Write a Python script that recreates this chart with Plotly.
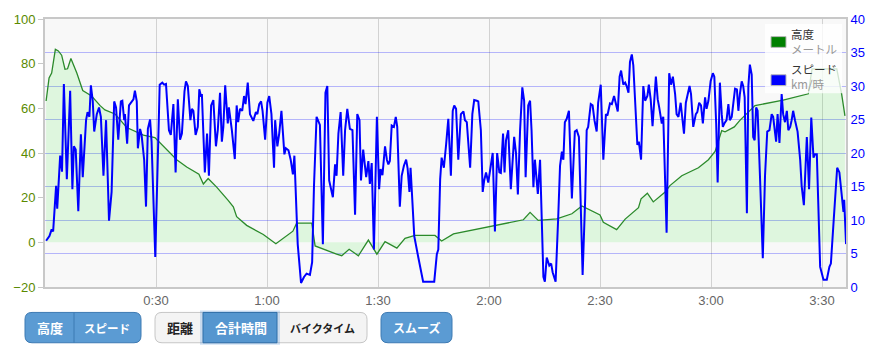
import plotly.graph_objects as go

# ---------------- data ----------------
tick_minutes = [30, 60, 90, 120, 150, 180, 210]
tick_labels = ["0:30", "1:00", "1:30", "2:00", "2:30", "3:00", "3:30"]

elev_time = [0.3, 1.1, 1.8, 2.8, 3.6, 4.5, 5.4, 6.1, 7.0, 8.6,
             10.2, 12.6, 14.9, 16.2, 18.9, 22.1, 26.6, 29.7, 35.6, 38.3,
             41.6, 42.8, 44.1, 46.4, 49.5, 50.9, 51.8, 54.5, 59.0, 62.4,
             67.0, 68.0, 72.1, 73.0, 78.8, 80.2, 82.2, 84.7, 87.4, 89.7,
             91.9, 95.1, 97.3, 100.0, 105.4, 107.2, 110.4, 129.3, 131.1, 133.3,
             138.3, 142.4, 145.1, 147.3, 150.0, 150.9, 154.5, 156.8, 158.1, 160.4,
             161.1, 162.8, 164.4, 167.6, 168.9, 172.1, 176.6, 179.3, 181.1, 182.9,
             183.8, 186.3, 187.8, 191.9, 199.5, 206.3, 207.3, 214.0, 215.3, 216.2]
elev_m = [63.3, 73.6, 75.8, 86.4, 85.7, 83.8, 77.5, 77.7, 82.3, 75.8,
          68.0, 65.5, 61.2, 59.3, 57.5, 51.4, 48.0, 46.9, 37.0, 33.7,
          30.5, 26.1, 28.6, 24.7, 18.8, 15.9, 11.5, 7.6, 3.5, -0.6,
          5.0, 8.6, 8.6, -1.6, -5.3, -6.0, -3.1, -6.0, 1.0, -5.3,
          0.3, -2.6, 1.8, 3.1, 3.1, 0.6, 3.8, 10.1, 13.4, 9.8,
          10.5, 12.8, 16.3, 14.5, 12.3, 9.0, 5.7, 10.4, 12.3, 15.5,
          19.5, 22.0, 18.1, 22.5, 25.4, 29.8, 33.4, 37.0, 40.7, 50.0,
          49.5, 51.7, 54.6, 61.2, 63.7, 66.5, 77.7, 77.7, 66.5, 56.6]

speed_time = [
    0.3, 1.2, 1.8, 2.2, 3.0, 3.3, 4.1, 4.6, 5.1, 5.9,
    6.8, 7.4, 7.8, 8.3, 9.0, 9.7, 10.2, 11.1, 11.5, 12.0,
    12.4, 12.9, 13.3, 14.0, 14.6, 15.1, 15.8, 16.5, 17.3, 18.0,
    18.7, 19.2, 19.8, 20.5, 20.9, 21.4, 21.6, 22.2, 22.7, 23.4,
    23.9, 24.3, 24.8, 25.1, 25.7, 26.1, 26.8, 27.3, 27.8, 28.4,
    28.8, 29.8, 31.0, 31.7, 32.2, 32.7, 33.5, 34.0, 34.7, 35.3,
    35.9, 36.5, 37.0, 37.7, 38.1, 38.6, 39.3, 39.7, 40.1, 40.7,
    41.3, 41.7, 42.2, 42.4, 43.2, 43.8, 44.3, 44.9, 45.5, 46.2,
    46.7, 47.3, 47.8, 48.2, 48.7, 49.4, 49.7, 50.5, 51.3, 51.8,
    52.2, 52.7, 53.3, 53.8, 54.2, 54.8, 55.4, 56.3, 57.0, 57.4,
    57.9, 58.4, 58.8, 59.5, 60.1, 60.6, 61.2, 61.9, 62.2, 62.8,
    63.3, 63.9, 64.7, 65.1, 65.8, 66.4, 67.0, 67.4, 68.3, 69.2,
    70.0, 70.7, 71.6, 72.2, 72.7, 73.4, 74.0, 74.3, 75.1, 75.8,
    76.3, 76.8, 77.8, 78.4, 78.8, 79.3, 79.9, 80.6, 81.1, 81.7,
    82.4, 83.1, 83.8, 84.4, 85.0, 85.4, 86.0, 86.8, 87.4, 87.8,
    88.3, 88.9, 89.7, 90.3, 90.7, 91.2, 91.9, 92.4, 92.8, 93.2,
    93.7, 94.3, 94.8, 95.2, 95.9, 96.4, 97.0, 97.6, 98.0, 98.5,
    98.8, 99.8, 100.9, 102.2, 105.2, 105.9, 106.3, 106.8, 107.2, 107.8,
    108.4, 109.0, 109.7, 110.2, 110.6, 111.1, 111.7, 112.4, 113.1, 113.5,
    114.0, 114.9, 115.5, 116.0, 116.7, 117.1, 117.8, 118.3, 118.7, 119.2,
    119.8, 120.3, 121.0, 121.6, 122.2, 122.8, 123.2, 123.8, 124.2, 124.6,
    125.2, 125.9, 126.4, 126.8, 127.3, 127.8, 128.4, 129.0, 129.5, 129.9,
    130.6, 131.1, 131.5, 132.0, 132.4, 133.2, 133.8, 134.7, 135.1, 135.6,
    136.3, 136.8, 137.2, 138.0, 138.7, 139.2, 139.7, 140.1, 140.5, 141.0,
    141.6, 142.4, 143.2, 143.7, 144.3, 145.3, 146.0, 146.4, 146.8, 147.5,
    148.0, 148.5, 149.1, 149.5, 150.2, 150.9, 151.6, 152.0, 152.7, 153.2,
    153.8, 154.3, 154.8, 155.3, 155.7, 156.3, 156.8, 157.2, 157.7, 158.1,
    158.6, 159.0, 159.7, 160.1, 160.5, 161.1, 161.7, 162.2, 162.8, 163.2,
    163.7, 164.2, 165.1, 165.6, 166.0, 166.7, 167.1, 168.0, 168.7, 169.2,
    169.7, 170.3, 170.7, 171.2, 171.8, 172.7, 173.2, 173.7, 174.2, 174.6,
    175.2, 175.9, 176.3, 176.8, 177.3, 177.8, 178.4, 178.8, 179.3, 179.9,
    180.5, 180.9, 181.4, 181.8, 182.4, 182.9, 183.2, 183.6, 184.2, 184.7,
    185.1, 185.6, 186.3, 186.5, 187.0, 187.4, 187.8, 188.3, 188.7, 189.1,
    189.7, 190.1, 190.5, 191.0, 191.4, 191.8, 192.2, 192.6, 193.2, 194.0,
    194.6, 195.2, 195.8, 196.4, 196.8, 197.6, 198.0, 198.5, 199.1, 199.5,
    200.0, 200.5, 200.9, 201.4, 201.8, 202.2, 202.7, 203.4, 204.1, 204.5,
    205.1, 205.9, 206.5, 207.1, 207.7, 208.1, 208.6, 209.0, 209.5, 210.4,
    211.3, 212.0, 212.4, 213.2, 214.1, 214.7, 215.3, 215.8, 216.0, 216.5]
speed_kmh = [
    6.9, 7.6, 8.6, 8.3, 15.1, 11.7, 19.6, 17.2, 30.3, 16.1,
    29.3, 14.6, 21.0, 20.5, 11.3, 22.8, 16.4, 24.9, 26.1, 25.4,
    30.1, 27.8, 23.2, 25.8, 26.8, 25.4, 16.6, 24.9, 9.9, 14.2,
    27.7, 26.8, 22.0, 27.7, 27.8, 24.9, 25.8, 21.4, 27.1, 27.7,
    28.0, 29.3, 27.7, 20.7, 23.6, 22.7, 19.0, 12.0, 23.6, 25.0,
    21.7, 4.5, 30.2, 30.5, 30.2, 30.3, 23.4, 22.7, 27.3, 17.1,
    28.0, 22.0, 22.9, 29.2, 30.7, 30.0, 24.9, 26.6, 26.3, 22.7,
    23.9, 29.5, 28.4, 28.8, 17.1, 22.9, 16.6, 27.1, 27.9, 21.0,
    23.4, 29.0, 21.7, 23.9, 30.1, 24.4, 26.8, 23.4, 19.1, 27.1,
    24.6, 26.6, 26.3, 28.5, 27.3, 30.5, 25.8, 24.8, 26.1, 25.8,
    27.3, 27.7, 26.3, 22.0, 27.5, 28.5, 25.8, 17.8, 24.9, 21.0,
    22.9, 26.3, 19.8, 20.7, 20.4, 19.0, 16.8, 19.6, 6.4, 0.6,
    1.5, 2.0, 1.8, 3.7, 15.1, 25.4, 24.4, 24.2, 6.4, 29.0,
    30.0, 15.9, 13.4, 18.3, 16.6, 22.9, 26.1, 16.6, 23.4, 26.6,
    23.6, 23.4, 10.8, 25.8, 24.9, 15.9, 20.5, 16.4, 18.8, 15.4,
    18.5, 5.6, 25.4, 14.6, 17.6, 16.7, 21.0, 19.0, 18.3, 18.8,
    24.1, 23.9, 25.4, 23.9, 12.0, 16.6, 18.1, 19.0, 17.7, 14.2,
    17.8, 7.6, 4.4, 0.8, 0.8, 4.9, 5.6, 16.1, 19.3, 17.8,
    21.2, 25.1, 16.6, 26.3, 27.1, 26.6, 19.0, 25.8, 26.2, 24.9,
    24.6, 17.8, 25.8, 27.9, 27.8, 27.7, 23.4, 14.2, 15.9, 17.1,
    15.6, 17.8, 20.0, 8.3, 20.0, 17.1, 17.0, 22.9, 17.1, 21.9,
    23.4, 14.6, 19.0, 22.4, 20.0, 13.8, 23.4, 29.8, 27.8, 16.4,
    27.1, 27.8, 23.4, 14.9, 19.0, 13.9, 19.0, 1.5, 0.8, 4.4,
    3.2, 3.5, 2.2, 0.8, 10.3, 18.1, 20.2, 19.0, 24.6, 25.1,
    26.3, 13.2, 23.2, 23.4, 22.4, 1.8, 13.2, 23.4, 23.9, 27.3,
    27.1, 24.9, 23.2, 27.5, 30.2, 19.0, 25.8, 25.6, 27.4, 27.3,
    28.5, 27.3, 26.2, 31.4, 32.3, 30.2, 30.5, 30.0, 29.0, 33.6,
    34.7, 33.1, 24.4, 21.2, 21.7, 19.0, 30.0, 27.8, 28.5, 30.2,
    28.0, 24.0, 31.4, 28.0, 26.8, 24.4, 25.4, 8.1, 31.9, 30.2,
    31.4, 28.8, 25.8, 25.4, 27.5, 22.9, 27.5, 28.8, 30.0, 28.8,
    23.9, 25.8, 26.1, 27.5, 27.1, 24.4, 28.3, 26.6, 27.8, 30.7,
    31.9, 31.4, 24.4, 15.6, 30.5, 25.8, 23.9, 24.4, 24.9, 27.3,
    24.9, 25.4, 29.2, 29.6, 29.5, 26.3, 28.8, 30.7, 30.0, 28.3,
    11.0, 30.0, 33.2, 31.7, 22.4, 21.9, 26.8, 26.3, 17.1, 4.3,
    16.6, 23.2, 23.4, 25.8, 25.4, 21.7, 25.8, 21.5, 28.8, 25.8,
    24.6, 26.3, 23.4, 23.9, 24.9, 26.3, 24.9, 23.2, 19.0, 15.1,
    12.2, 22.4, 14.6, 25.3, 19.3, 19.8, 19.8, 11.2, 3.0, 1.1,
    1.1, 3.0, 3.5, 10.3, 17.8, 17.1, 14.2, 11.2, 13.0, 6.4]

legend_names = ["高度", "スピード"]
legend_units = ["メートル", "km/時"]
button_labels = ["高度", "スピード", "距離", "合計時間", "バイクタイム", "スムーズ"]

# ---------------- geometry helpers ----------------
W, H = 878, 356
ML, MR, MT, MB = 45, 32, 13, 69
PW = W - ML - MR
PH = H - MT - MB


def px(x):
    return (x - ML) / PW


def py(y):
    return (H - MB - y) / PH


def rrect(x0, y0, x1, y1, r):
    rx, ry = r / PW, r / PH
    X0, X1, Y0, Y1 = px(x0), px(x1), py(y0), py(y1)
    return (f"M {X0+rx},{Y0} L {X1-rx},{Y0} Q {X1},{Y0} {X1},{Y0-ry} "
            f"L {X1},{Y1+ry} Q {X1},{Y1} {X1-rx},{Y1} L {X0+rx},{Y1} "
            f"Q {X0},{Y1} {X0},{Y1+ry} L {X0},{Y0-ry} Q {X0},{Y0} {X0+rx},{Y0} Z")


def rect(x0, y0, x1, y1):
    return dict(x0=px(x0), x1=px(x1), y0=py(y1), y1=py(y0))


fig = go.Figure()

fig.add_trace(go.Scatter(
    x=elev_time, y=elev_m, mode="lines", name=legend_names[0],
    line=dict(color="#2b8a2b", width=1.3), fill="tozeroy",
    fillcolor="rgba(0,235,0,0.10)", yaxis="y", hoverinfo="skip"))

fig.add_trace(go.Scatter(
    x=speed_time, y=speed_kmh, mode="lines", name=legend_names[1],
    line=dict(color="#0000ff", width=2), yaxis="y2", hoverinfo="skip"))

BLUE = "#5b9bd3"
BLUE_LINE = "#3d7ab3"
shapes = []
# legend background
shapes.append(dict(type="rect", xref="paper", yref="paper", layer="above",
                   fillcolor="rgba(255,255,255,0.78)", line=dict(width=0),
                   **rect(765, 18, 842, 89)))
# legend swatches
shapes.append(dict(type="rect", xref="paper", yref="paper", layer="above",
                   fillcolor="#008000", line=dict(color="#b8b8b8", width=1),
                   **rect(771, 31, 786, 42)))
shapes.append(dict(type="rect", xref="paper", yref="paper", layer="above",
                   fillcolor="#0000ff", line=dict(color="#b8b8b8", width=1),
                   **rect(771, 70, 786, 81)))
# button group 1
shapes.append(dict(type="path", xref="paper", yref="paper", path=rrect(25, 313, 141, 344, 7),
                   fillcolor=BLUE, line=dict(color=BLUE_LINE, width=1)))
shapes.append(dict(type="line", xref="paper", yref="paper", line=dict(color=BLUE_LINE, width=1),
                   x0=px(74), x1=px(74), y0=py(313), y1=py(344)))
# button group 2
shapes.append(dict(type="path", xref="paper", yref="paper", path=rrect(155, 313, 367, 344, 7),
                   fillcolor="#f4f4f4", line=dict(color="#c6c6c6", width=1)))
shapes.append(dict(type="rect", xref="paper", yref="paper", fillcolor="rgba(70,140,215,0.25)",
                   line=dict(width=0), **rect(200, 311, 280, 346)))
shapes.append(dict(type="rect", xref="paper", yref="paper", fillcolor="#5596cf",
                   line=dict(color="#2f6ea8", width=1), **rect(203, 313, 277, 344)))
# button group 3
shapes.append(dict(type="path", xref="paper", yref="paper", path=rrect(381, 313, 452, 344, 7),
                   fillcolor=BLUE, line=dict(color=BLUE_LINE, width=1)))

FONT = "Arial, 'Noto Sans CJK JP', sans-serif"
JP = "'Noto Sans CJK JP', sans-serif"
annotations = []


def label(text, x, y, size, color, anchor="center", bold=False):
    annotations.append(dict(
        text=f"<b>{text}</b>" if bold else text, x=px(x), y=py(y), xref="paper", yref="paper",
        xanchor=anchor, yanchor="middle", align="left", showarrow=False,
        font=dict(family=JP, size=size, color=color)))


# legend entries: name + unit as one two-line text each
for name, unit, yc in zip(legend_names, legend_units, [36, 71.5]):
    label(f"{name}<br><span style='color:#999999'>{unit}</span>", 789, yc, 11.5, "#333333", "left")

label(button_labels[0], 50, 328.5, 13, "white", bold=True)
label(button_labels[1], 107, 328.5, 11.5, "white", bold=True)
label(button_labels[2], 179.5, 328.5, 13, "#222222", bold=True)
label(button_labels[3], 240.5, 328.5, 13, "white", bold=True)
label(button_labels[4], 322, 328.5, 11, "#222222", bold=True)
label(button_labels[5], 416.5, 328.5, 12, "white", bold=True)

AX_LINE = "#c8c8c8"
fig.update_layout(
    width=W, height=H,
    margin=dict(l=ML, r=MR, t=MT, b=MB, pad=0),
    paper_bgcolor="white", plot_bgcolor="#f8f8f8",
    showlegend=False,
    font=dict(family=FONT),
    xaxis=dict(range=[0, (846 - 45) / 3.7], tickvals=tick_minutes, ticktext=tick_labels,
               showgrid=True, gridcolor="#d2d2d2", gridwidth=1, zeroline=False,
               showline=True, linecolor=AX_LINE, linewidth=2, mirror=True,
               ticks="", tickfont=dict(size=13, color="#666666")),
    yaxis=dict(range=[-20, 100], dtick=20, showgrid=False, zeroline=False,
               showline=True, linecolor=AX_LINE, linewidth=2,
               ticks="outside", ticklen=5, tickcolor=AX_LINE,
               tickfont=dict(size=13, color="#5a8a00")),
    yaxis2=dict(range=[0, 40], dtick=5, overlaying="y", side="right",
                showgrid=True, gridcolor="rgba(0,0,255,0.27)", gridwidth=1, zeroline=False,
                showline=True, linecolor=AX_LINE, linewidth=2, ticks="",
                tickfont=dict(size=13, color="#0000ff")),
    shapes=shapes, annotations=annotations,
)

fig.write_html("out.html")
